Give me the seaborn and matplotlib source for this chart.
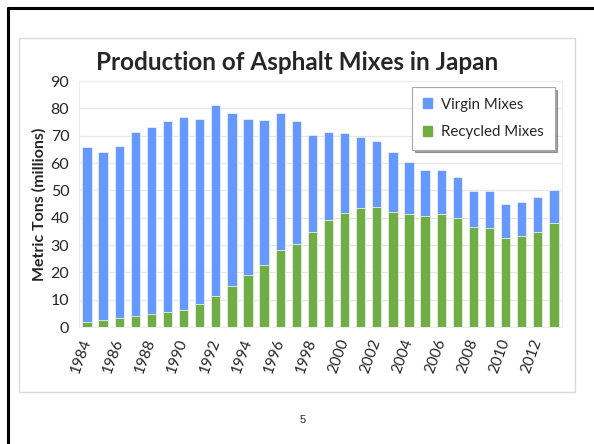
import matplotlib
matplotlib.use("Agg")
import matplotlib.pyplot as plt
import seaborn as sns
import numpy as np
import pandas as pd
from matplotlib.patches import Rectangle
from matplotlib.lines import Line2D

years = list(range(1984, 2014))
total = [66.0, 63.9, 66.2, 71.3, 73.0, 75.2, 76.9, 76.1, 81.1, 78.2,
         76.1, 75.8, 78.3, 75.2, 70.3, 71.4, 71.1, 69.5, 68.1, 63.9,
         60.3, 57.6, 57.4, 54.9, 49.7, 49.7, 44.9, 45.6, 47.5, 50.0]
recycled = [1.8, 2.6, 3.2, 4.0, 4.6, 5.6, 6.4, 8.3, 11.4, 15.0,
            19.2, 22.8, 28.1, 30.2, 34.9, 39.0, 41.6, 43.4, 43.8, 42.2,
            41.5, 40.5, 41.5, 39.8, 36.5, 36.3, 32.5, 33.4, 34.7, 37.9]
virgin = [t - r for t, r in zip(total, recycled)]
yticks = list(range(0, 100, 10))

df = pd.DataFrame({"year": [str(y) for y in years],
                   "recycled": recycled,
                   "total": [r + v for r, v in zip(recycled, virgin)]})

sns.set_style("white")
plt.rcParams['font.family'] = ['Lato', 'DejaVu Sans']

blue = "#6699FF"
green = "#70AD47"

fig = plt.figure(figsize=(5.94, 4.44), dpi=100)

# slide border
fig.add_artist(Line2D([0.0135, 0.0135], [0, 0.982], color="black", lw=2.2,
                      transform=fig.transFigure))
fig.add_artist(Line2D([0.0135, 1.0], [0.982, 0.982], color="black", lw=2.2,
                      transform=fig.transFigure))
# chart box
fig.add_artist(Rectangle((0.032, 0.117), 0.936, 0.797, fill=False,
                         edgecolor="#D9D9D9", lw=1.0, transform=fig.transFigure))

ax = fig.add_axes([0.133, 0.2635, 0.813, 0.554])
sns.barplot(data=df, x="year", y="total", color=blue, width=0.58,
            edgecolor="#E8EEFF", linewidth=0.6, ax=ax, zorder=2, saturation=1)
sns.barplot(data=df, x="year", y="recycled", color=green, width=0.58,
            edgecolor="#E8F2E0", linewidth=0.6, ax=ax, zorder=3, saturation=1)

ax.set_ylim(0, 90)
ax.set_yticks(yticks)
ax.set_yticklabels([str(t) for t in yticks], fontsize=11.5, color="#262626")
ax.yaxis.grid(True, color="#E6E6E6", lw=0.9, zorder=0)
ax.set_axisbelow(True)
ax.set_xlim(-0.5, len(years) - 0.5)
ax.set_xticks(range(0, len(years), 2))
ax.set_xticklabels([str(y) for y in years[::2]], rotation=70, ha="right",
                   va="center", rotation_mode="anchor", fontsize=11, color="#262626")
ax.tick_params(axis="both", length=0)
ax.tick_params(axis="x", pad=9)
ax.tick_params(axis="y", pad=7)
for s in ax.spines.values():
    s.set_color("#EDEDED")
    s.set_linewidth(0.8)
ax.set_xlabel("")
ax.set_ylabel("Metric Tons (millions)", fontsize=11.5, fontweight="bold", labelpad=3)

handles = [Rectangle((0, 0), 1, 1, color=blue), Rectangle((0, 0), 1, 1, color=green)]
leg = ax.legend(handles, ["Virgin Mixes", "Recycled Mixes"], loc="upper right",
                bbox_to_anchor=(0.985, 0.975), fontsize=10.8, frameon=True,
                fancybox=False, shadow=True, edgecolor="#A6A6A6",
                labelspacing=0.9, handlelength=0.65, handleheight=0.65,
                borderpad=0.7, handletextpad=0.6, borderaxespad=0)
leg.get_frame().set_linewidth(0.8)

fig.text(0.5, 0.86, "Production of Asphalt Mixes in Japan", ha="center",
         va="center", fontsize=17.5, fontweight="bold")
fig.text(0.51, 0.054, "5", ha="center", va="center", fontsize=8,
         family=["Liberation Sans", "DejaVu Sans"])

fig.savefig("out.png", dpi=100)
